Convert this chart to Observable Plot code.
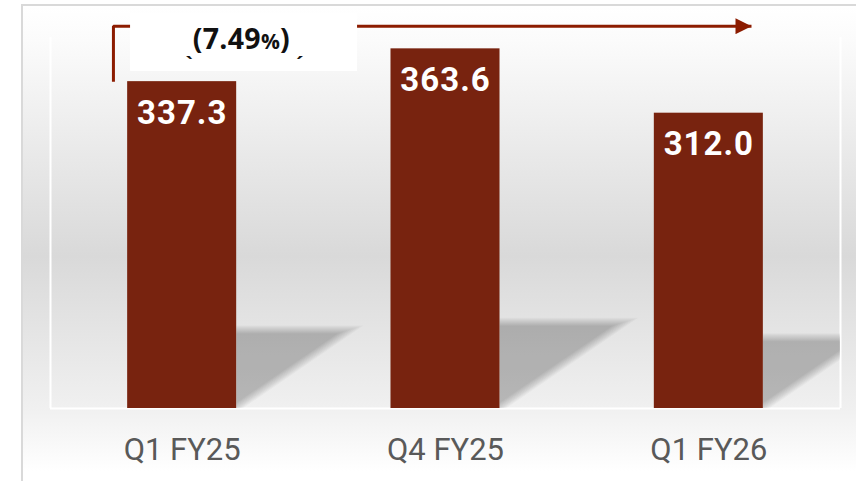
<!DOCTYPE html>
<html>
<head>
<meta charset="utf-8">
<script src="https://cdn.jsdelivr.net/npm/d3@7"></script>
<script src="https://cdn.jsdelivr.net/npm/@observablehq/plot@0.6"></script>
<style>
  html, body { margin: 0; padding: 0; background: #ffffff; width: 856px; height: 481px; overflow: hidden; }
  #panel {
    position: absolute; left: 21px; top: 4px; width: 850px; height: 490px;
    border-left: 2px solid #d9d9d9; border-top: 2px solid #d9d9d9;
    background: linear-gradient(to bottom, #ffffff 0px, #fbfbfb 35px, #d9d9d9 250px, #f0f0f0 402px, #ffffff 465px);
  }
  #chart { position: absolute; left: 0; top: 0; }
</style>
</head>
<body>
<div id="panel"></div>
<div id="chart"></div>
<script>
// ---- data ----
const categories = ["Q1 FY25", "Q4 FY25", "Q1 FY26"];
const values = [337.3, 363.6, 312.0];
const valueLabels = ["337.3", "363.6", "312.0"];
const changeText = ["(7.49", "%", ")"];
const accentMarks = ["`", "´"];

// ---- layout / scale constants ----
const W = 856, Hgt = 481, mL = 50, mR = 16, mT = 37, mB = 73;
const yMin = 75.2, yMax = 372.7;
const barColor = "#78230F";
const arrowColor = "#8C1C00";
const halfBar = 0.207;
const xPerPx = 3 / (W - mL - mR);
const yPerPx = (yMax - yMin) / (Hgt - mT - mB);

const idx = categories.map((_, i) => i);
const bars = idx.map(i => ({i, cat: categories[i], v: values[i], label: valueLabels[i]}));

// soft (layered) shadow triangles derived from bar heights
const blurSteps = d3.range(-4, 5);
const shadows = bars.flatMap(b => {
  const hpx = (b.v - yMin) / yPerPx;
  const H = 0.24 * hpx, w = 0.35 * hpx, L = Math.hypot(H, w);
  const r = b.i + halfBar;
  return blurSteps.flatMap(d => {
    const topV = yMin + (H - d) * yPerPx;
    const botV = yMin + (d * L / w) * yPerPx;
    const xr = r + (w - d * (w + L) / H) * xPerPx;
    const z = b.i + ":" + d;
    return [{z, x: r, y1: botV, y2: topV}, {z, x: xr, y1: topV, y2: topV}];
  });
});

const maxV = d3.max(values);
const bracketTop = maxV * 1.05;
const bracket = [
  {x: -0.261, y: values[0]},
  {x: -0.261, y: bracketTop},
  {x: 2.162, y: bracketTop}
];
const labelBox = [{x1: -0.196, x2: 0.666, y1: 345.5, y2: 392}];
const changePos = [{x: 0.225, y: maxV}];
const accentPos = [{x: 0.026, y: 346, t: accentMarks[0]}, {x: 0.447, y: 346, t: accentMarks[1]}];

const chart = Plot.plot({
  width: W,
  height: Hgt,
  marginLeft: mL,
  marginRight: mR,
  marginTop: mT,
  marginBottom: mB,
  style: {background: "transparent", overflow: "visible"},
  x: {domain: [-0.5, 2.5], axis: null},
  y: {domain: [yMin, yMax], axis: null},
  marks: [
    Plot.ruleX([-0.5, 2.5], {stroke: "white", strokeWidth: 2}),
    Plot.ruleY([yMin], {stroke: "white", strokeWidth: 2}),
    Plot.areaY(shadows, {x: "x", y1: "y1", y2: "y2", z: "z", fill: "black", fillOpacity: 0.027, clip: true}),
    Plot.rectY(bars, {x1: d => d.i - halfBar, x2: d => d.i + halfBar, y1: yMin, y2: "v", fill: barColor}),
    Plot.line(bracket, {x: "x", y: "y", stroke: arrowColor, strokeWidth: 3, strokeLinejoin: "miter", strokeLinecap: "butt"}),
    Plot.rect(labelBox, {x1: "x1", x2: "x2", y1: "y1", y2: "y2", fill: "white"}),
    Plot.text(changePos, {x: "x", y: "y", text: () => changeText.join(""), fontFamily: "Open Sans", fontWeight: "bold", fontSize: 28.5, fill: "#111111", lineAnchor: "bottom"}),
    Plot.text(bars, {x: "i", y: "v", text: "label", fill: "white", fontFamily: "Roboto", fontWeight: "bold", fontSize: 33, lineAnchor: "bottom", dy: 42}),
    Plot.text(accentPos, {x: "x", y: "y", text: "t", fontFamily: "Open Sans", fontWeight: "bold", fontSize: 20, fill: "#111111", lineAnchor: "bottom"}),
    Plot.axisX({ticks: idx, tickFormat: i => categories[i], tickSize: 0, tickPadding: 29, fontSize: 31, fontFamily: "Roboto", color: "#595959"})
  ]
});

const svg = d3.select(chart);
const defs = svg.insert("defs", ":first-child");
defs.append("marker").attr("id", "arrowHead")
  .attr("viewBox", "0 0 16 16").attr("refX", 16).attr("refY", 8)
  .attr("markerWidth", 16).attr("markerHeight", 16)
  .attr("markerUnits", "userSpaceOnUse").attr("orient", "auto")
  .append("path").attr("d", "M0,0L16,8L0,16Z").attr("fill", arrowColor);
svg.select('g[aria-label="line"] path').attr("marker-end", "url(#arrowHead)");

// mixed-size change label (first text mark)
const textGroups = svg.selectAll('g[aria-label="text"]').nodes();
const t = d3.select(textGroups[0]).select("text");
t.text(null);
t.attr("letter-spacing", "0.3px");
t.append("tspan").text(changeText[0]);
t.append("tspan").attr("font-size", 21).text(changeText[1]);
t.append("tspan").text(changeText[2]);

// value labels: slightly wider spacing
d3.select(textGroups[1]).selectAll("text").attr("letter-spacing", "1px");

// axis text styling
svg.selectAll('g[aria-label="x-axis tick label"] text').attr("fill", "#595959");

document.getElementById("chart").append(chart);
</script>
</body>
</html>
